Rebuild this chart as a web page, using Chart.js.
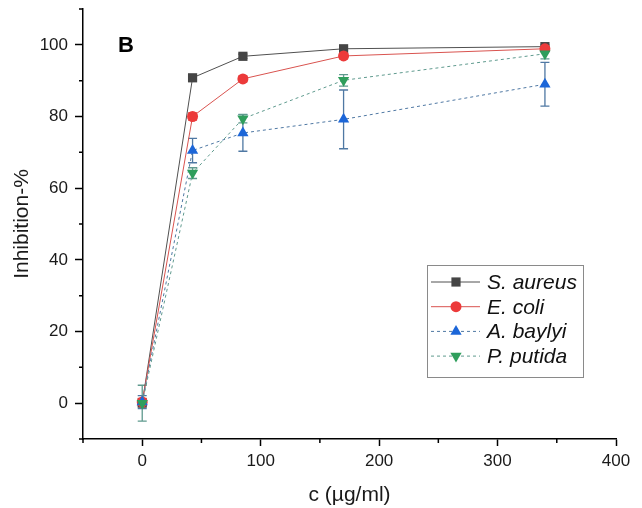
<!DOCTYPE html>
<html>
<head>
<meta charset="utf-8">
<script src="https://cdn.jsdelivr.net/npm/chart.js@4.4.0/dist/chart.umd.min.js"></script>
<style>
  html, body { margin: 0; padding: 0; background: #fff; }
</style>
</head>
<body>
<canvas id="inhibition" width="642" height="508"></canvas>
<script>
// concentration in µg/ml
var concentrations = [0, 42.5, 85, 170, 340];

var seriesNames = ['S. aureus', 'E. coli', 'A. baylyi', 'P. putida'];

// inhibition-% means and their standard deviations
var aureusValues = [0.0, 90.8, 96.8, 98.9, 99.5];
var aureusErrors = [0.5, 0.6, 0.6, 0.5, 0.5];
var coliValues = [0.3, 80.0, 90.5, 96.9, 98.9];
var coliErrors = [1.0, 1.0, 0.8, 0.8, 0.6];
var baylyiValues = [0.3, 70.5, 75.4, 79.2, 89.0];
var baylyiErrors = [1.8, 3.4, 5.1, 8.2, 6.1];
var putidaValues = [0.0, 64.2, 79.4, 90.1, 97.5];
var putidaErrors = [5.0, 1.5, 1.2, 1.6, 1.4];

var xTickValues = [0, 100, 200, 300, 400];
var xMinorTicks = [-50, 50, 150, 250, 350];
var yTickValues = [0, 20, 40, 60, 80, 100];
var yMinorTicks = [-10, 10, 30, 50, 70, 90, 110];

var tickFont = { family: 'Liberation Sans, Arial, sans-serif', size: 17 };
var titleFont = { family: 'Liberation Sans, Arial, sans-serif', size: 21 };

function points(values) {
    return concentrations.map(function (c, i) { return { x: c, y: values[i] }; });
}

function series(name, values, errors, line, fill, style, radius, rotation, dash, order) {
    return {
        label: name,
        data: points(values),
        errors: errors,
        borderColor: line,
        borderWidth: 1,
        borderDash: dash,
        backgroundColor: fill,
        pointBackgroundColor: fill,
        pointBorderColor: fill,
        pointBorderWidth: 0,
        pointStyle: style,
        pointRadius: radius,
        pointRotation: rotation,
        errorColor: line,
        tension: 0,
        order: order
    };
}

function drawMarker(ctx, style, x, y, r, rotation, color) {
    ctx.save();
    ctx.fillStyle = color;
    ctx.beginPath();
    if (style === 'rect') {
        var h = r * Math.SQRT1_2;
        ctx.rect(x - h, y - h, 2 * h, 2 * h);
    } else if (style === 'circle') {
        ctx.arc(x, y, r, 0, Math.PI * 2);
    } else {
        var rad = rotation * Math.PI / 180;
        for (var k = 0; k < 3; k++) {
            var px = x + Math.sin(rad) * r, py = y - Math.cos(rad) * r;
            if (k === 0) ctx.moveTo(px, py); else ctx.lineTo(px, py);
            rad += 2 * Math.PI / 3;
        }
        ctx.closePath();
    }
    ctx.fill();
    ctx.restore();
}

// vertical error bars with caps, drawn under the markers
var errorBars = {
    id: 'errorBars',
    beforeDatasetsDraw: function (chart) {
        var ctx = chart.ctx, xs = chart.scales.x, ys = chart.scales.y;
        chart.data.datasets.forEach(function (ds) {
            ctx.save();
            ctx.strokeStyle = ds.errorColor;
            ctx.lineWidth = 1.3;
            ds.data.forEach(function (p, i) {
                var e = ds.errors[i];
                var x = xs.getPixelForValue(p.x);
                var top = ys.getPixelForValue(p.y + e);
                var bot = ys.getPixelForValue(p.y - e);
                ctx.beginPath();
                ctx.moveTo(x, top); ctx.lineTo(x, bot);
                ctx.moveTo(x - 4.5, top); ctx.lineTo(x + 4.5, top);
                ctx.moveTo(x - 4.5, bot); ctx.lineTo(x + 4.5, bot);
                ctx.stroke();
            });
            ctx.restore();
        });
    }
};

// short ticks between the labelled ones
var minorTicks = {
    id: 'minorTicks',
    afterDraw: function (chart) {
        var ctx = chart.ctx, xs = chart.scales.x, ys = chart.scales.y;
        var a = chart.chartArea;
        ctx.save();
        ctx.strokeStyle = '#000';
        ctx.lineWidth = 1.5;
        ctx.beginPath();
        xMinorTicks.forEach(function (v) {
            var x = xs.getPixelForValue(v);
            ctx.moveTo(x, a.bottom); ctx.lineTo(x, a.bottom + 4);
        });
        yMinorTicks.forEach(function (v) {
            var y = ys.getPixelForValue(v);
            ctx.moveTo(a.left, y); ctx.lineTo(a.left - 4, y);
        });
        ctx.stroke();
        ctx.restore();
    }
};

// boxed legend with line + marker samples, and the panel letter
var panelLegend = {
    id: 'panelLegend',
    afterDraw: function (chart) {
        var ctx = chart.ctx;
        var bx = 427, by = 265, bw = 156, bh = 112;
        ctx.save();
        ctx.strokeStyle = '#8a8a8a';
        ctx.lineWidth = 1;
        ctx.strokeRect(bx + 0.5, by + 0.5, bw, bh);
        chart.data.datasets.forEach(function (ds, i) {
            var y = by + 17 + i * 24.7;
            ctx.save();
            ctx.strokeStyle = ds.borderColor;
            ctx.lineWidth = 1;
            ctx.setLineDash(ds.borderDash);
            ctx.beginPath();
            ctx.moveTo(bx + 4, y); ctx.lineTo(bx + 53, y);
            ctx.stroke();
            ctx.restore();
            drawMarker(ctx, ds.pointStyle, bx + 29, y, ds.pointRadius, ds.pointRotation, ds.pointBackgroundColor);
            ctx.fillStyle = '#111';
            ctx.font = 'italic 21px Liberation Sans, Arial, sans-serif';
            ctx.textBaseline = 'middle';
            ctx.textAlign = 'left';
            ctx.fillText(ds.label, bx + 60, y + 1);
        });
        ctx.fillStyle = '#000';
        ctx.font = 'bold 22px Liberation Sans, Arial, sans-serif';
        ctx.textBaseline = 'middle';
        ctx.fillText('B', chart.chartArea.left + 35, chart.chartArea.top + 37);
        ctx.restore();
    }
};

var datasets = [
    series(seriesNames[0], aureusValues, aureusErrors, '#505050', '#454545', 'rect', 6.5, 0, [], 4),
    series(seriesNames[1], coliValues, coliErrors, '#d9534f', '#ec3a3a', 'circle', 5.5, 0, [], 3),
    series(seriesNames[2], baylyiValues, baylyiErrors, '#4f78a3', '#1c66d8', 'triangle', 6.5, 0, [3, 3], 2),
    series(seriesNames[3], putidaValues, putidaErrors, '#5f9a8e', '#2f9e5c', 'triangle', 6.5, 180, [3, 3], 1)
];

new Chart(document.getElementById('inhibition').getContext('2d'), {
    type: 'line',
    data: { datasets: datasets },
    options: {
        responsive: false,
        animation: false,
        layout: { padding: { top: 0, right: 26, left: 0, bottom: 0 } },
        plugins: { legend: { display: false }, tooltip: { enabled: false } },
        scales: {
            x: {
                type: 'linear',
                min: -50,
                max: 400,
                afterBuildTicks: function (s) { s.ticks = xTickValues.map(function (v) { return { value: v }; }); },
                afterFit: function (s) { s.height = 69; },
                ticks: { font: tickFont, color: '#1a1a1a', padding: 5, maxRotation: 0 },
                grid: { drawOnChartArea: false, drawTicks: true, tickLength: 7, color: '#000', tickWidth: 1.5 },
                border: { display: true, color: '#000', width: 1.5 },
                title: { display: true, text: 'c (µg/ml)', font: titleFont, color: '#1a1a1a', padding: { top: 0, bottom: 0 } }
            },
            y: {
                type: 'linear',
                min: -10,
                max: 110,
                afterBuildTicks: function (s) { s.ticks = yTickValues.map(function (v) { return { value: v }; }); },
                afterFit: function (s) { s.width = 83; s.paddingTop = 9; s.paddingBottom = 0; },
                ticks: { font: tickFont, color: '#1a1a1a', padding: 7 },
                grid: { drawOnChartArea: false, drawTicks: true, tickLength: 8, color: '#000', tickWidth: 1.5 },
                border: { display: true, color: '#000', width: 1.5 },
                title: { display: true, text: 'Inhibition-%', font: titleFont, color: '#1a1a1a', padding: { top: 10, bottom: 0 } }
            }
        }
    },
    plugins: [errorBars, minorTicks, panelLegend]
});
</script>
</body>
</html>
